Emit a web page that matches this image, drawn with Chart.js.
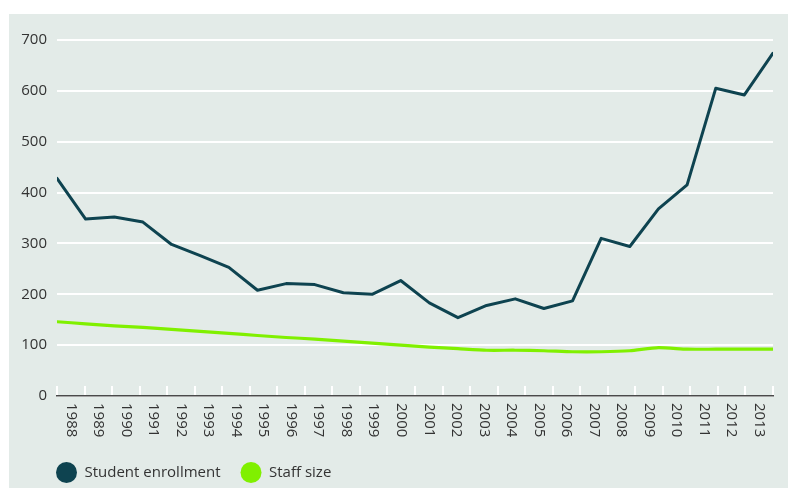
<!DOCTYPE html>
<html>
<head>
<meta charset="utf-8">
<script src="https://cdn.jsdelivr.net/npm/chart.js@4/dist/chart.umd.min.js"></script>
<style>
  html, body { margin: 0; padding: 0; background: #ffffff; width: 788px; height: 488px; overflow: hidden; }
  #wrap { position: absolute; left: 9px; top: 14px; width: 779px; height: 474px; background: #e3ebe8; }
  canvas { display: block; }
</style>
</head>
<body>
<div id="wrap"><canvas id="c" width="779" height="474"></canvas></div>
<script>
const years = ['1988','1989','1990','1991','1992','1993','1994','1995','1996','1997','1998','1999','2000',
               '2001','2002','2003','2004','2005','2006','2007','2008','2009','2010','2011','2012','2013'];
const studentEnrollment = [428, 348, 352, 342, 298, 276, 253, 208, 221, 219, 203, 200, 227,
                           183, 154, 178, 191, 172, 187, 310, 294, 368, 415, 605, 592, 674];
const staffSize = [146, 142, 138, 135, 131, 127, 123, 119, 115, 112, 108, 104, 100,
                   96, 93, 90, 90, 89, 87, 87, 89, 95, 92, 92, 92, 92];
const yTicks = [0, 100, 200, 300, 400, 500, 600, 700];
const seriesNames = ['Student enrollment', 'Staff size'];

const DARK = '#0e4350';
const GREEN = '#80f000';
const TEXT = '#333333';
const FONT = "'Open Sans', sans-serif";

const toPoints = (vals) => vals.map((v, i) => ({ x: Number(years[i]), y: v }));

const xLabelPlugin = {
  id: 'xLabels',
  afterDraw(chart) {
    const sc = chart.scales.x;
    const ctx = chart.ctx;
    ctx.save();
    ctx.font = '15px ' + FONT;
    ctx.fillStyle = TEXT;
    ctx.textAlign = 'left';
    ctx.textBaseline = 'middle';
    sc.ticks.forEach((t, i) => {
      const x = sc.getPixelForTick(i);
      ctx.save();
      ctx.translate(x, sc.top + 7);
      ctx.rotate(Math.PI / 2);
      ctx.fillText(sc.getLabelForValue(t.value), 0, 0);
      ctx.restore();
    });
    ctx.restore();
  }
};

const legendSizePlugin = {
  id: 'legendSize',
  beforeLayout(chart) {
    const lg = chart.legend;
    if (lg && !lg.__patched) {
      const f = lg.fit;
      lg.fit = function () { f.call(this); this.height = 46; };
      lg.__patched = true;
    }
  },
  afterLayout(chart) {
    const lg = chart.legend;
    if (lg) { lg.left += 27; lg.right += 27; }
  }
};

new Chart(document.getElementById('c'), {
  type: 'line',
  data: {
    labels: years,
    datasets: [
      {
        label: seriesNames[0],
        data: toPoints(studentEnrollment),
        xAxisID: 'xd',
        borderColor: DARK,
        backgroundColor: DARK,
        borderWidth: 3,
        pointRadius: 0,
        tension: 0,
        borderJoinStyle: 'round',
        borderCapStyle: 'round'
      },
      {
        label: seriesNames[1],
        data: toPoints(staffSize),
        xAxisID: 'xd',
        borderColor: GREEN,
        backgroundColor: GREEN,
        borderWidth: 3.2,
        pointRadius: 0,
        tension: 0.2,
        borderJoinStyle: 'round',
        borderCapStyle: 'round'
      }
    ]
  },
  options: {
    responsive: false,
    animation: false,
    devicePixelRatio: 1,
    layout: { padding: { top: 26, right: 15, left: 0, bottom: 0 } },
    plugins: {
      tooltip: { enabled: false },
      legend: {
        position: 'bottom',
        align: 'start',
        labels: {
          font: { size: 15, family: FONT },
          color: TEXT,
          boxWidth: 21,
          boxHeight: 21,
          useBorderRadius: true,
          borderRadius: 10.5,
          padding: 20,
          generateLabels(chart) {
            return Chart.defaults.plugins.legend.labels.generateLabels(chart)
              .map(l => Object.assign(l, { lineWidth: 0 }));
          }
        }
      }
    },
    scales: {
      xd: {
        type: 'linear',
        position: 'bottom',
        display: false,
        min: Number(years[0]),
        max: Number(years[years.length - 1])
      },
      x: {
        type: 'category',
        position: 'bottom',
        offset: true,
        grid: {
          offset: true,
          drawOnChartArea: false,
          drawTicks: true,
          tickLength: -10,
          color: '#ffffff',
          lineWidth: 2
        },
        border: { display: true, color: '#4a4a4a', width: 1.5 },
        ticks: { display: false },
        afterFit(scale) { scale.height = 46; }
      },
      y: {
        type: 'linear',
        min: yTicks[0],
        max: yTicks[yTicks.length - 1],
        afterBuildTicks(scale) { scale.ticks = yTicks.map(v => ({ value: v })); },
        grid: { color: '#ffffff', lineWidth: 2, drawTicks: false },
        border: { display: false },
        ticks: {
          padding: 10,
          color: TEXT,
          font: { size: 15, family: FONT }
        },
        afterFit(scale) { scale.width = 48; }
      }
    }
  },
  plugins: [xLabelPlugin, legendSizePlugin]
});
</script>
</body>
</html>
